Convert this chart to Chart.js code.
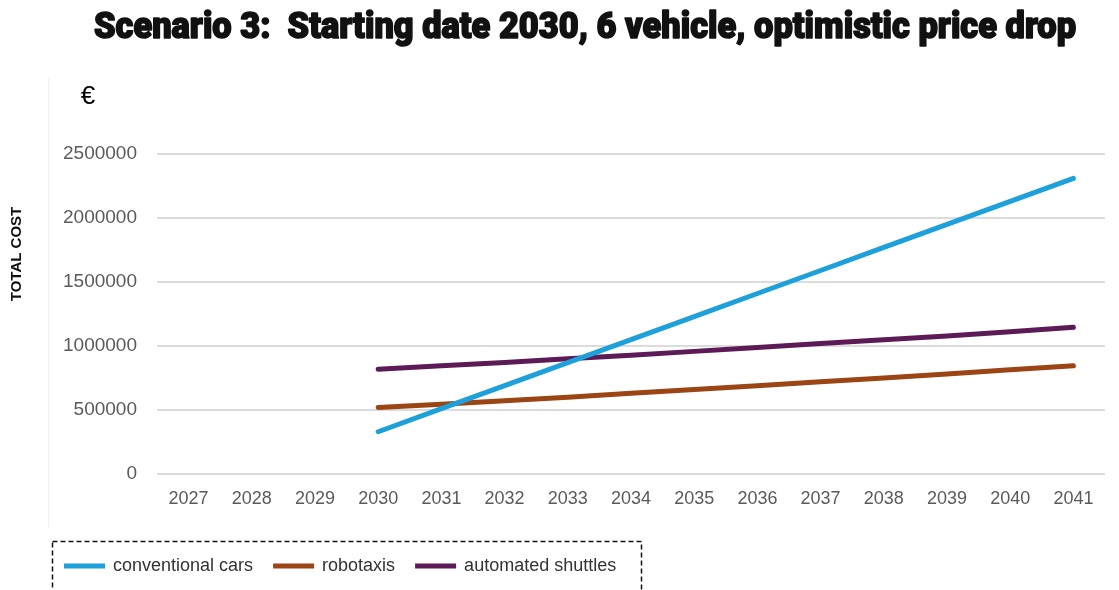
<!DOCTYPE html>
<html>
<head>
<meta charset="utf-8">
<script src="https://cdn.jsdelivr.net/npm/chart.js@4.4.1/dist/chart.umd.min.js"></script>
<style>
  html, body { margin: 0; padding: 0; background: #ffffff; }
  #wrap { width: 1119px; height: 590px; position: relative; }
</style>
</head>
<body>
<div id="wrap"><canvas id="c" width="1119" height="590"></canvas></div>
<script>
// Years on the horizontal axis
const years = ['2027', '2028', '2029', '2030', '2031', '2032', '2033', '2034',
               '2035', '2036', '2037', '2038', '2039', '2040', '2041'];

// Total cost per year (EUR); the scenario starts in 2030
const conventionalCars  = [null, null, null, 330000, 510000, 690000, 870000, 1050000,
                           1230000, 1410000, 1590000, 1770000, 1950000, 2130000, 2310000];
const robotaxis         = [null, null, null, 520000, 545000, 572000, 600000, 630000,
                           660000, 690000, 720000, 750000, 782000, 815000, 845000];
const automatedShuttles = [null, null, null, 818000, 845000, 872000, 900000, 928000,
                           958000, 988000, 1020000, 1048000, 1078000, 1112000, 1146000];

// Value axis ticks
const yTicks = [0, 500000, 1000000, 1500000, 2000000, 2500000];

const seriesNames  = ['conventional cars', 'robotaxis', 'automated shuttles'];
const seriesColors = ['#1ea0da', '#9b4414', '#5c1a56'];

const titleText = 'Scenario 3:  Starting date 2030, 6 vehicle, optimistic price drop';

// Extra decorations: heading, unit sign, axis caption and the dashed legend
const decor = {
  id: 'decor',
  beforeDraw(chart) {
    const ctx = chart.ctx;
    ctx.save();
    // thin divider at the far left
    ctx.strokeStyle = '#f0f0f0';
    ctx.lineWidth = 1;
    ctx.beginPath();
    ctx.moveTo(48.5, 78);
    ctx.lineTo(48.5, 527);
    ctx.stroke();
    ctx.restore();
  },
  afterDraw(chart) {
    const ctx = chart.ctx;
    ctx.save();

    // heading, squeezed to a condensed, heavy look
    ctx.fillStyle = '#111111';
    ctx.strokeStyle = '#111111';
    ctx.lineWidth = 1.6;
    ctx.lineJoin = 'round';
    ctx.font = '900 36px Roboto, "Liberation Sans", sans-serif';
    ctx.textBaseline = 'alphabetic';
    ctx.textAlign = 'left';
    const w = ctx.measureText(titleText).width;
    const targetW = 982;
    ctx.save();
    ctx.translate(94, 38);
    ctx.scale(targetW / w, 1);
    ctx.fillText(titleText, 0, 0);
    ctx.strokeText(titleText, 0, 0);
    ctx.restore();

    // unit sign
    ctx.fillStyle = '#000000';
    ctx.font = '26px "Liberation Sans", Arial, sans-serif';
    ctx.textAlign = 'center';
    ctx.textBaseline = 'middle';
    ctx.fillText('€', 88, 97);

    // axis caption
    ctx.save();
    ctx.translate(17, 254);
    ctx.rotate(-Math.PI / 2);
    ctx.font = 'bold 15px "Liberation Sans", Arial, sans-serif';
    ctx.fillStyle = '#111111';
    ctx.fillText('TOTAL COST', 0, 0);
    ctx.restore();

    // legend frame
    ctx.strokeStyle = '#111111';
    ctx.lineWidth = 1.5;
    ctx.setLineDash([5, 3]);
    ctx.strokeRect(52.5, 541.5, 589, 70);
    ctx.setLineDash([]);

    // legend entries from the datasets
    let x = 64;
    const y = 566;
    ctx.font = '18px "Liberation Sans", Arial, sans-serif';
    ctx.textAlign = 'left';
    ctx.textBaseline = 'middle';
    chart.data.datasets.forEach(ds => {
      ctx.fillStyle = ds.borderColor;
      ctx.fillRect(x, y - 2.5, 41, 5);
      ctx.fillStyle = '#333333';
      ctx.fillText(ds.label, x + 49, y);
      x = x + 49 + ctx.measureText(ds.label).width + 20;
    });
    ctx.restore();
  }
};

const seriesData = [conventionalCars, robotaxis, automatedShuttles];

new Chart(document.getElementById('c'), {
  type: 'line',
  data: {
    labels: years,
    datasets: seriesNames.map((name, i) => ({
      label: name,
      data: seriesData[i],
      borderColor: seriesColors[i],
      backgroundColor: seriesColors[i],
      borderWidth: 5,
      borderCapStyle: 'round',
      borderJoinStyle: 'round',
      pointRadius: 0,
      tension: 0,
      spanGaps: false
    }))
  },
  options: {
    responsive: false,
    animation: false,
    layout: { padding: { top: 154, right: 14, bottom: 83, left: 0 } },
    plugins: {
      legend: { display: false },
      title: { display: false },
      tooltip: { enabled: false }
    },
    scales: {
      x: {
        type: 'category',
        offset: true,
        grid: { display: false, drawTicks: false },
        border: { display: false },
        ticks: {
          color: '#5a5a5a',
          font: { family: '"Liberation Sans", Arial, sans-serif', size: 18 },
          padding: 14,
          maxRotation: 0,
          autoSkip: false
        },
        afterFit(s) { s.height = 33; }
      },
      y: {
        min: 0,
        max: 2500000,
        afterBuildTicks(s) { s.ticks = yTicks.map(v => ({ value: v })); },
        grid: { color: '#dcdcdc', lineWidth: 2, drawTicks: false },
        border: { display: false },
        ticks: {
          color: '#5a5a5a',
          font: { family: '"Liberation Sans", Arial, sans-serif', size: 19 },
          padding: 20,
          callback: v => String(v)
        },
        afterFit(s) { s.width = 157; }
      }
    }
  },
  plugins: [decor]
});
</script>
</body>
</html>
